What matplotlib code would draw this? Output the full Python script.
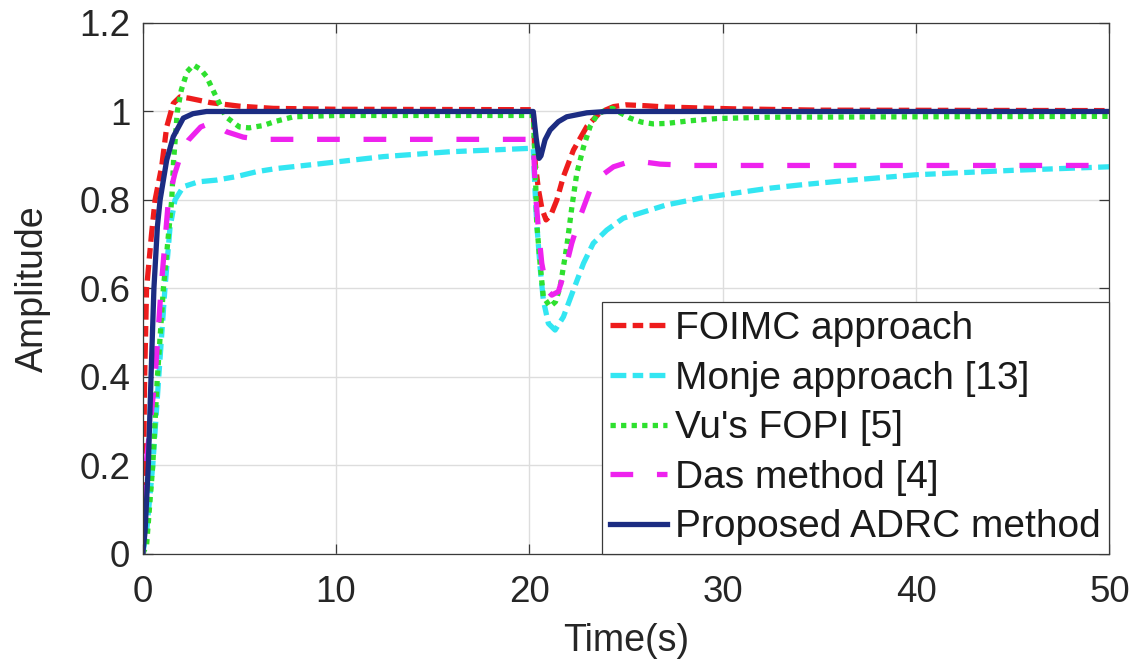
import matplotlib
matplotlib.use("Agg")
import matplotlib.pyplot as plt

plt.rcParams['font.family'] = ['Liberation Sans', 'DejaVu Sans']

# FOIMC approach
t_foimc = [0, 0.05, 0.1, 0.2, 0.45, 0.64, 0.98, 1.24, 1.58, 1.93, 2.4, 3.5, 5.0, 6.75, 10, 20.2,
           20.3, 20.47, 20.65, 20.86, 21.1, 21.42, 21.76, 22.28, 22.97, 23.66, 24.35, 25.0, 26.0,
           27.1, 30.5, 35, 50]
y_foimc = [0, 0.2, 0.4, 0.6, 0.72, 0.8, 0.875, 0.965, 1.018, 1.033, 1.03, 1.02, 1.012, 1.007, 1.005, 1.004,
           0.883, 0.823, 0.78, 0.755, 0.765, 0.80, 0.853, 0.913, 0.966, 0.998, 1.011, 1.015, 1.013,
           1.01, 1.006, 1.003, 1.002]

# Monje approach [13]
t_monje = [0, 0.2, 0.52, 0.83, 1.15, 1.41, 1.67, 2.1, 2.88, 3.83, 4.86, 5.9, 6.9, 9.0, 12.45, 15.9, 20.2,
           20.27, 20.38, 20.55, 20.72, 20.98, 21.33, 21.76, 22.28, 22.8, 23.3, 24.0, 24.86, 25.4, 27.1,
           28.83, 30.55, 32.3, 34.0, 36.4, 40, 45, 50]
y_monje = [0, 0.05, 0.2, 0.4, 0.6, 0.737, 0.8, 0.83, 0.841, 0.845, 0.853, 0.864, 0.871, 0.881, 0.898, 0.909, 0.917,
           0.84, 0.747, 0.649, 0.574, 0.521, 0.506, 0.536, 0.597, 0.657, 0.702, 0.732, 0.759, 0.766, 0.789,
           0.804, 0.815, 0.826, 0.834, 0.844, 0.857, 0.867, 0.875]

# Vu's FOPI [5]
t_vu = [0, 0.2, 0.52, 0.76, 1.07, 1.5, 1.6, 1.79, 2.0, 2.3, 2.62, 3.0, 3.3, 3.8, 4.3, 5.0, 5.5, 6.2, 6.9, 7.8,
        10, 20.2, 20.3, 20.38, 20.55, 20.72, 21.07, 21.35, 21.59, 21.93, 22.2, 22.45, 22.8, 23.14, 23.49,
        24.0, 24.3, 24.7, 25.2, 25.8, 26.4, 27.1, 28.3, 29.7, 32.3, 40, 50]
y_vu = [0, 0.02, 0.2, 0.4, 0.6, 0.8, 0.89, 1.0, 1.049, 1.09, 1.105, 1.095, 1.079, 1.033, 0.988, 0.965, 0.963,
        0.968, 0.978, 0.988, 0.991, 0.991, 0.88, 0.747, 0.657, 0.581, 0.559, 0.57, 0.604, 0.694, 0.785, 0.86,
        0.92, 0.966, 0.992, 1.005, 1.007, 0.997, 0.985, 0.976, 0.972, 0.973, 0.979, 0.984, 0.987, 0.988, 0.989]

# Das method [4]
t_das = [0, 0.17, 0.64, 0.95, 1.33, 1.67, 2.0, 2.36, 3.0, 3.57, 4.35, 5.2, 6.07, 10, 20.2,
         20.3, 20.47, 20.64, 20.9, 21.16, 21.5, 21.85, 22.19, 22.62, 23.14, 23.66, 24.35, 25.0, 25.73,
         26.76, 28.5, 50]
y_das = [0, 0.2, 0.4, 0.6, 0.8, 0.861, 0.906, 0.935, 0.965, 0.975, 0.954, 0.942, 0.937, 0.937, 0.937,
         0.823, 0.732, 0.657, 0.597, 0.585, 0.593, 0.642, 0.702, 0.762, 0.823, 0.853, 0.875, 0.884, 0.887,
         0.881, 0.878, 0.878]

# Proposed ADRC method
t_adrc = [0, 0.12, 0.29, 0.43, 0.58, 0.76, 0.9, 1.24, 1.58, 2.1, 2.6, 3.3, 20.2, 20.35, 20.5, 20.6,
          20.81, 21.07, 21.5, 21.93, 22.97, 24, 50]
y_adrc = [0, 0.05, 0.2, 0.4, 0.6, 0.74, 0.8, 0.89, 0.943, 0.985, 0.995, 1.0, 1.0, 0.94, 0.894, 0.9,
          0.936, 0.958, 0.977, 0.988, 0.997, 1.0, 1.0]

labels = ['FOIMC approach', 'Monje approach [13]', "Vu's FOPI [5]", 'Das method [4]',
          'Proposed ADRC method']
x_ticks = [0, 10, 20, 30, 40, 50]
y_ticks = [0, 0.2, 0.4, 0.6, 0.8, 1.0, 1.2]
y_tick_labels = ['0', '0.2', '0.4', '0.6', '0.8', '1', '1.2']

fig = plt.figure(figsize=(11.38, 6.66), dpi=100)
ax = fig.add_axes([0.1254, 0.1682, 0.8495, 0.7973])

lw = 3.8
dashdot = (0, (3.0, 1.2, 2.0, 1.2))
ax.plot(t_foimc, y_foimc, color='#ee1c1c', lw=lw, linestyle=dashdot, label=labels[0])
ax.plot(t_monje, y_monje, color='#33e6f2', lw=lw, linestyle=dashdot, label=labels[1])
ax.plot(t_vu, y_vu, color='#2ee02e', lw=lw, linestyle=(0, (1.0, 1.0)), label=labels[2])
ax.plot(t_das, y_das, color='#ee22ee', lw=lw, linestyle=(0, (4.3, 4.5)), label=labels[3])
ax.plot(t_adrc, y_adrc, color='#1c2c82', lw=lw, linestyle='-', label=labels[4])

ax.set_xlim(0, 50)
ax.set_ylim(0, 1.2)
ax.set_xticks(x_ticks)
ax.set_yticks(y_ticks)
ax.set_yticklabels(y_tick_labels)
ax.grid(True, color='#dddddd', linewidth=1.0)
ax.set_axisbelow(True)

for sp in ax.spines.values():
    sp.set_color('#3a3a3a')
    sp.set_linewidth(0.9)

ax.tick_params(axis='both', direction='in', length=7, width=0.9, colors='#3a3a3a',
               labelcolor='#262626', labelsize=26.5, top=True, right=True)
ax.tick_params(axis='x', pad=15)
ax.tick_params(axis='y', pad=9)

ax.set_xlabel('Time(s)', fontsize=27, color='#262626')
ax.set_ylabel('Amplitude', fontsize=27, color='#262626')
ax.xaxis.set_label_coords(0.5, -0.164)
ax.xaxis.label.set_verticalalignment('center')
ax.yaxis.set_label_coords(-0.114, 0.5)
ax.yaxis.label.set_verticalalignment('center')

leg = ax.legend(loc='lower right', bbox_to_anchor=(1.0, 0.0), borderaxespad=0.0,
                fontsize=28, frameon=True, fancybox=False, framealpha=1.0,
                edgecolor='#3a3a3a', borderpad=0.22, labelspacing=0.35,
                handlelength=1.45, handletextpad=0.22)
leg.get_frame().set_linewidth(0.9)
for txt in leg.get_texts():
    txt.set_color('#1a1a1a')

fig.savefig('out.png', dpi=100)
